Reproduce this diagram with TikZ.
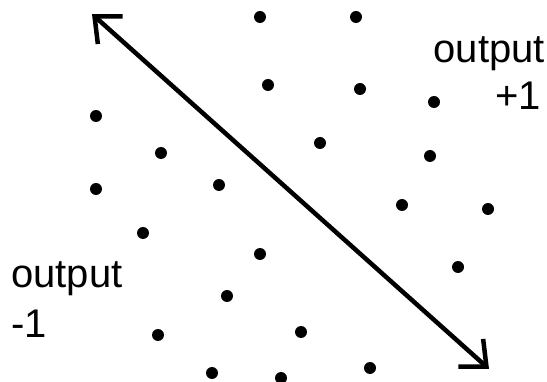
\documentclass[tikz,border=0pt]{standalone}
\usepackage{fontspec}
\setmainfont{Liberation Sans}
\usepackage{tikz}
\usetikzlibrary{arrows.meta, positioning}

\tikzset{
  label text/.style={inner sep=0pt, font=\fontsize{40}{44}\selectfont},
  sample dot/.style={fill=black}
}

\begin{document}
\begin{tikzpicture}[x=1pt, y=-1pt,
    >={Straight Barb[length=21pt, width=37pt, line width=4.5pt]}]
  \useasboundingbox (0,0) rectangle (547,382);

  % boundary direction
  \coordinate (topend) at (92,14);
  \coordinate (botend) at (489,369);
  \draw[<->, line width=4.5pt] (topend) -- (botend);

  % data points
  \foreach \px/\py in {260/17, 356/17, 268/85, 360/89, 434/102,
                       96/116, 320/143, 161/153, 430/156,
                       96/189, 219/185, 402/205, 488/209,
                       143/233, 260/254, 458/267, 227/296,
                       301/332, 158/335, 370/368, 212/373, 281/378}
    \fill[sample dot] (\px,\py) circle (6pt);

  % class labels
  \node[label text, anchor=base east] (posword) at (545,63) {output};
  \node[label text, anchor=base east] (posval) at (541,110) {+1};
  \node[label text, anchor=base west] (negword) at (11,288) {output};
  \node[label text, anchor=base west] (negval) at (11,338) {-1};
\end{tikzpicture}
\end{document}
